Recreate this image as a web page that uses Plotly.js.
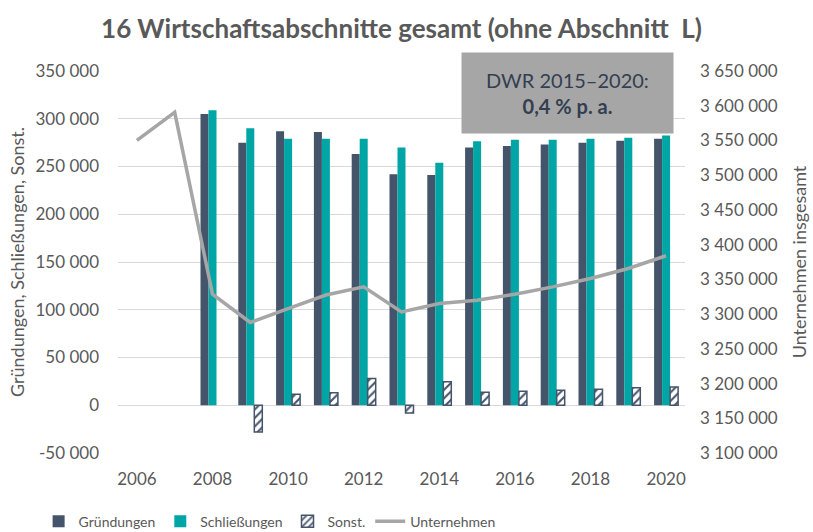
<!DOCTYPE html>
<html>
<head>
<meta charset="utf-8">
<script src="https://cdn.plot.ly/plotly-3.0.1.min.js"></script>
<style>html,body{margin:0;padding:0;background:#fff;}#chart{width:813px;height:532px;}</style>
</head>
<body>
<div id="chart"></div>
<script>
// ---- data ----
const years = [2006, 2007, 2008, 2009, 2010, 2011, 2012, 2013, 2014, 2015, 2016, 2017, 2018, 2019, 2020];
const gruendungen = [null, null, 305000, 275000, 287000, 286000, 263000, 242000, 241000, 270000, 271500, 273000, 275000, 277000, 279000];
const schliessungen = [null, null, 309000, 290000, 279000, 279000, 279000, 270000, 254000, 276500, 278000, 278000, 279000, 280000, 282500];
const sonst = [null, null, null, -28000, 11500, 13000, 28000, -8000, 24500, 13500, 14700, 15700, 16800, 18200, 19200];
const unternehmen = [3550000, 3590500, 3328700, 3288000, 3308000, 3327500, 3339200, 3303200, 3315300, 3320000, 3328700, 3339200, 3351300, 3365700, 3384000];

const xTickVals = [2006, 2008, 2010, 2012, 2014, 2016, 2018, 2020];
const leftTickVals = [-50000, 0, 50000, 100000, 150000, 200000, 250000, 300000, 350000];
const leftTickLabels = ["-50 000", "0", "50 000", "100 000", "150 000", "200 000", "250 000", "300 000", "350 000"];
const rightTickVals = [3100000, 3150000, 3200000, 3250000, 3300000, 3350000, 3400000, 3450000, 3500000, 3550000, 3600000, 3650000];
const rightTickLabels = ["3 100 000", "3 150 000", "3 200 000", "3 250 000", "3 300 000", "3 350 000", "3 400 000", "3 450 000", "3 500 000", "3 550 000", "3 600 000", "3 650 000"];

const titleText = "16 Wirtschaftsabschnitte gesamt (ohne Abschnitt  L)";
const boxText = "DWR 2015–2020:<br><b>0,4 % p. a.</b>";

// ---- styles ----
const FONT = "Lato, 'Open Sans', sans-serif";
const GREY = "#595959";
const C_G = "#44546A";
const C_S = "#00A5A5";
const C_L = "#A6A6A6";

const traces = [
  {type: "bar", name: "Gründungen", x: years, y: gruendungen, marker: {color: C_G}},
  {type: "bar", name: "Schließungen", x: years, y: schliessungen, marker: {color: C_S}},
  {type: "bar", name: "Sonst.", x: years, y: sonst,
   marker: {color: "white", line: {color: C_G, width: 1.5},
            pattern: {shape: "/", fgcolor: C_G, bgcolor: "white", size: 6, solidity: 0.35}}},
  {type: "scatter", mode: "lines", name: "Unternehmen", x: years, y: unternehmen, yaxis: "y2",
   line: {color: C_L, width: 3.5}}
];

const layout = {
  width: 813, height: 532,
  margin: {l: 118, r: 128, t: 71, b: 79, autoexpand: false},
  paper_bgcolor: "white", plot_bgcolor: "white",
  font: {family: FONT, color: GREY, size: 17},
  title: {text: "<b>" + titleText + "</b>", font: {family: FONT, size: 26, color: GREY},
          x: 0.5, xanchor: "center", y: 0.945, yanchor: "middle", xref: "paper"},
  barmode: "group", bargap: 0.365, bargroupgap: 0,
  showlegend: true,
  legend: {orientation: "h", x: -0.14, xanchor: "left", y: -0.18, yanchor: "middle",
           font: {family: FONT, size: 14, color: GREY}, traceorder: "normal",
           itemwidth: 30},
  xaxis: {type: "linear", range: [2005.5, 2020.5], tickvals: xTickVals, ticks: "",
          showgrid: false, zeroline: false, showline: false,
          tickfont: {family: FONT, size: 17, color: GREY}, ticklabelstandoff: 14},
  yaxis: {range: [-50000, 350000], tickvals: leftTickVals, ticktext: leftTickLabels,
          showgrid: true, gridcolor: "#D9D9D9", gridwidth: 1, zeroline: false, showline: false,
          ticks: "", tickfont: {family: FONT, size: 17, color: GREY}, ticklabelstandoff: 18,
          title: {text: "Gründungen, Schließungen, Sonst.", font: {family: FONT, size: 18, color: GREY}, standoff: 6}},
  yaxis2: {overlaying: "y", side: "right", range: [3100000, 3650000],
           tickvals: rightTickVals, ticktext: rightTickLabels,
           showgrid: false, zeroline: false, showline: false, ticks: "",
           tickfont: {family: FONT, size: 17, color: GREY}, ticklabelstandoff: 14,
           title: {text: "Unternehmen insgesamt", font: {family: FONT, size: 18, color: GREY}, standoff: 16}},
  annotations: [{
    xref: "paper", yref: "paper", x: 0.793, y: 0.942, xanchor: "center", yanchor: "middle",
    text: boxText, showarrow: false, align: "center",
    bgcolor: "#A6A6A6", width: 209, height: 78,
    font: {family: FONT, size: 20, color: "#333F50"}
  }]
};

Plotly.newPlot("chart", traces, layout, {displayModeBar: false, staticPlot: true});
</script>
</body>
</html>
